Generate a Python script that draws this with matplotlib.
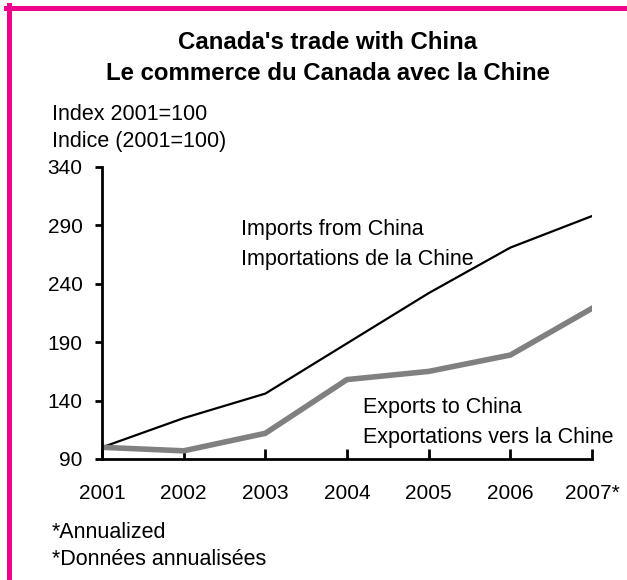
import matplotlib
matplotlib.use("Agg")
from matplotlib import pyplot as plt
from matplotlib.lines import Line2D

plt.rcParams['font.family'] = ['Liberation Sans', 'DejaVu Sans']

years = [2001, 2002, 2003, 2004, 2005, 2006, 2007]
year_labels = ["2001", "2002", "2003", "2004", "2005", "2006", "2007*"]
imports = [100, 125, 146, 189, 232, 271, 298]
exports = [100, 97, 112, 158, 165, 179, 219]
y_ticks = [90, 140, 190, 240, 290, 340]

W, H = 627, 580
fig = plt.figure(figsize=(W / 100, H / 100), dpi=100)
ax = fig.add_axes([102 / W, 1 - 459 / H, 490 / W, 292 / H])


def px_text(x, y, s, **kw):
    # place text by pixel position (x from left, baseline y from top)
    kw.setdefault("fontsize", 15.5)
    kw.setdefault("va", "baseline")
    return fig.text(x / W, 1 - y / H, s, **kw)


ax.plot(years, imports, color="black", lw=1.6, solid_joinstyle="miter")
ax.plot(years, exports, color="#808080", lw=4, solid_joinstyle="miter")

ax.set_xlim(2001, 2007)
ax.set_ylim(90, 340)
ax.set_xticks(years)
ax.set_xticklabels(year_labels)
ax.set_yticks(y_ticks)
for s in ["top", "right"]:
    ax.spines[s].set_visible(False)
for s in ["left", "bottom"]:
    ax.spines[s].set_linewidth(2)
ax.tick_params(axis="x", direction="in", length=7, width=2, pad=18, labelsize=15)
ax.tick_params(axis="y", direction="out", length=5, width=2, pad=9, labelsize=15)

px_text(241, 235, "Imports from China")
px_text(241, 265, "Importations de la Chine")
px_text(363, 413, "Exports to China")
px_text(363, 443, "Exportations vers la Chine")

px_text(327.5, 49, "Canada's trade with China", ha="center",
        fontsize=17.3, fontweight="bold")
px_text(327.5, 80, "Le commerce du Canada avec la Chine", ha="center",
        fontsize=17.3, fontweight="bold")
px_text(52, 120, "Index 2001=100")
px_text(52, 147, "Indice (2001=100)")
px_text(52, 538, "*Annualized")
px_text(52, 565, "*Données annualisées")

# magenta frame on the left and top edges
pink = "#EC008C"
fig.add_artist(Line2D([8.5 / W, 8.5 / W], [0, 1 - 5 / H], color=pink, lw=3.6,
                      transform=fig.transFigure))
fig.add_artist(Line2D([6 / W, 1], [1 - 7.5 / H, 1 - 7.5 / H], color=pink, lw=3.6,
                      transform=fig.transFigure))

fig.savefig("out.png", dpi=100)
